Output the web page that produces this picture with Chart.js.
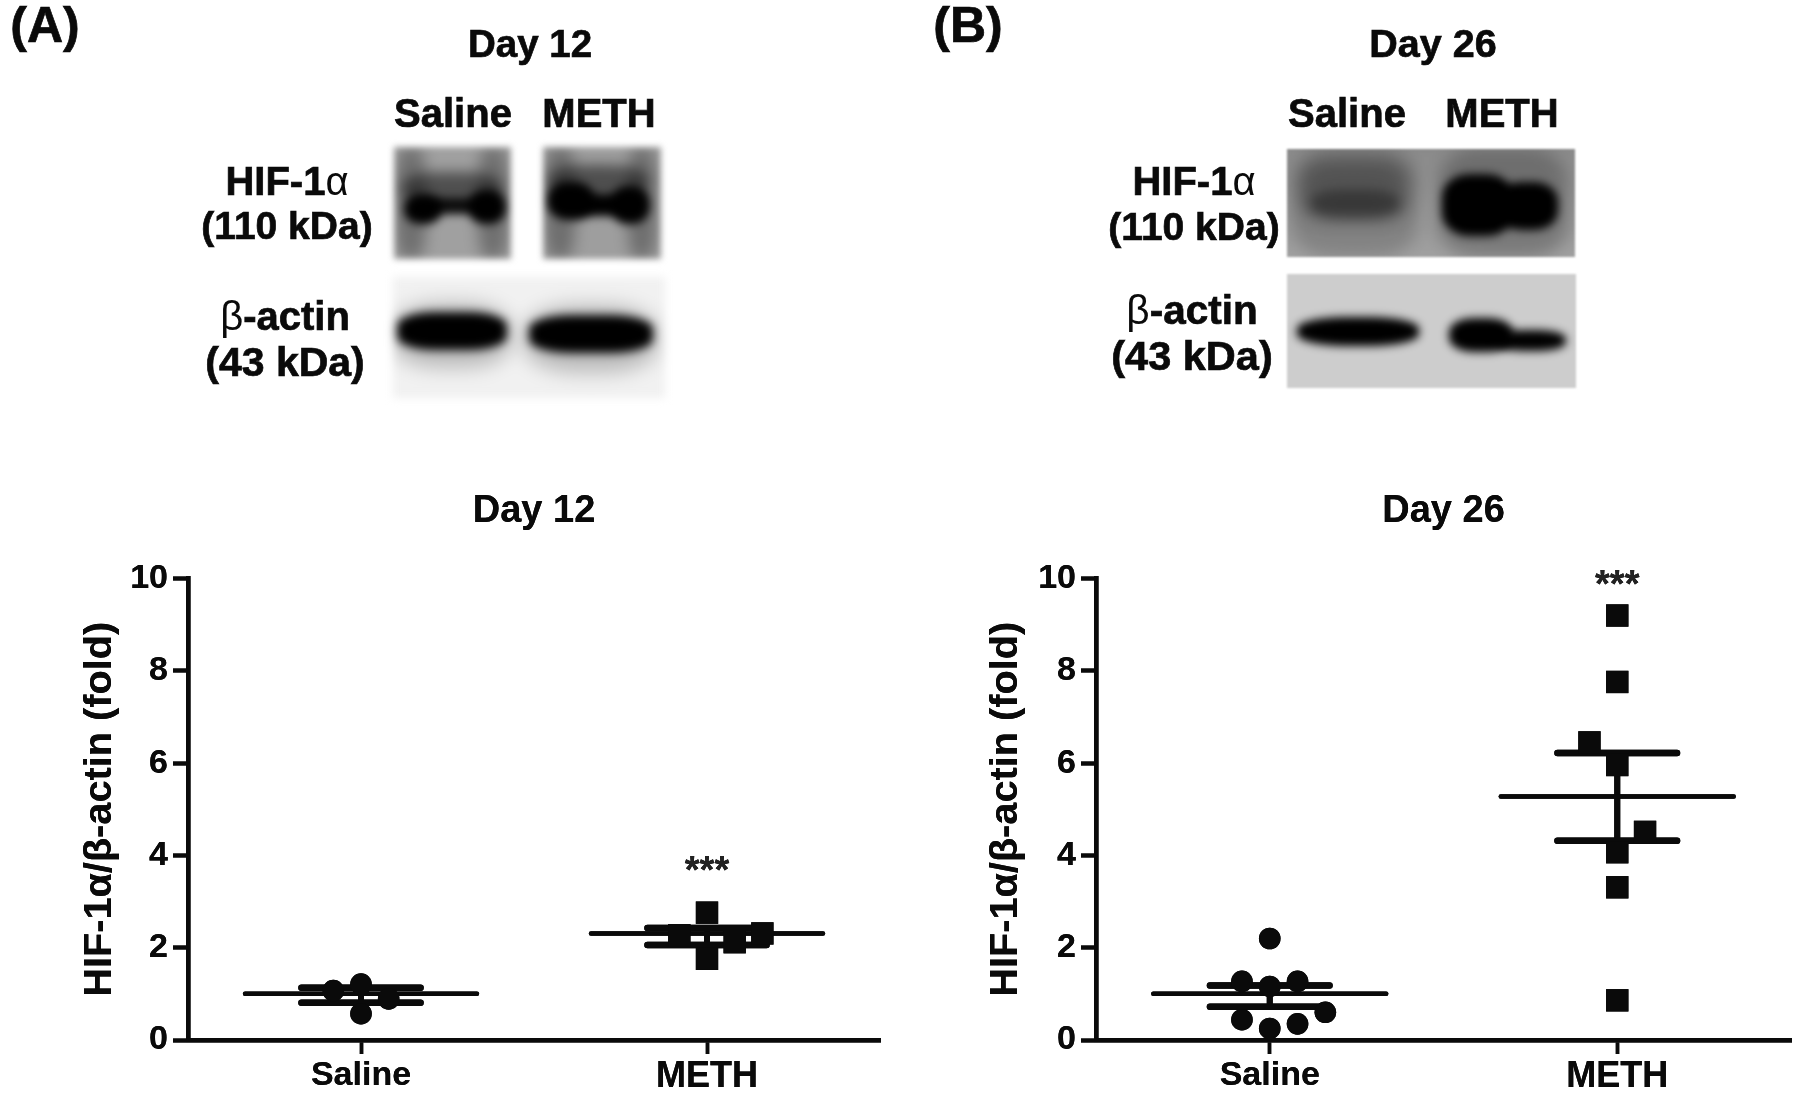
<!DOCTYPE html>
<html>
<head>
<meta charset="utf-8">
<script src="https://cdn.jsdelivr.net/npm/chart.js@4"></script>
<style>
    html, body { margin: 0; padding: 0; background: #fff; }
    #page { position: relative; width: 1800px; height: 1109px; overflow: hidden; filter: blur(0.7px); }
    canvas.plot { position: absolute; top: 481px; filter: drop-shadow(0 0 0.6px #000); }
    .txt { position: absolute; transform: translate(-50%, -50%); white-space: nowrap; color: #0a0a0a;
        font: bold 39px "Liberation Sans", Arial, sans-serif; -webkit-text-stroke: 0.7px #0a0a0a; }
    .txt i { font-style: normal; font-weight: normal; -webkit-text-stroke: 0; }
    .blot { position: absolute; overflow: hidden; }
    .blot div { position: absolute; background: #000; }
</style>
</head>
<body>
<div id="page">
    <canvas id="panelA" class="plot" width="900" height="628" style="left:0"></canvas>
    <canvas id="panelB" class="plot" width="900" height="628" style="left:900px"></canvas>
</div>
<script>
const groups = ['Saline', 'METH'];
const yTicks = [0, 2, 4, 6, 8, 10];
const yLabel = 'HIF-1α/β-actin (fold)';

// Day 12
const day12SalineX = [1, 1, 0.92, 1.08];
const day12SalineY = [1.21, 0.57, 1.07, 0.89];
const day12MethX = [2, 2, 1.92, 2.08, 2.16];
const day12MethY = [2.76, 1.76, 2.27, 2.12, 2.31];
const day12Means = [1.0, 2.31];
const day12Upper = [1.13, 2.43];
const day12Lower = [0.81, 2.06];
const day12Stars = 3.78;

// Day 26
const day26SalineX = [1, 0.92, 1.08, 1, 1.16, 0.92, 1.08, 1];
const day26SalineY = [2.2, 1.27, 1.27, 1.16, 0.6, 0.44, 0.35, 0.25];
const day26MethX = [2, 2, 1.92, 2, 2.08, 2, 2, 2];
const day26MethY = [9.2, 7.76, 6.45, 5.96, 4.51, 4.07, 3.31, 0.86];
const day26Means = [1.0, 5.28];
const day26Upper = [1.18, 6.22];
const day26Lower = [0.72, 4.32];
const day26Stars = 9.97;

const ink = '#0a0a0a';
const fontFamily = '"Liberation Sans", Arial, sans-serif';

function zip(xs, ys) {
    return xs.map((x, i) => ({ x: x, y: ys[i] }));
}

function segment(x, half, y, width) {
    return {
        type: 'scatter', showLine: true, data: [{ x: x - half, y: y }, { x: x + half, y: y }],
        borderColor: ink, borderWidth: width, pointRadius: 0, clip: false, borderCapStyle: 'round'
    };
}

function summaryLines(means, upper, lower) {
    const sets = [];
    means.forEach((m, i) => {
        const x = i + 1;
        sets.push(segment(x, 0.335, m, 4.5));
        sets.push(segment(x, 0.172, upper[i], 6.5));
        sets.push(segment(x, 0.172, lower[i], 6.5));
        sets.push({
            type: 'scatter', showLine: true, data: [{ x: x, y: lower[i] }, { x: x, y: upper[i] }],
            borderColor: ink, borderWidth: 6, pointRadius: 0, clip: false
        });
    });
    return sets;
}

// asterisks above the METH group
const starsPlugin = {
    id: 'stars',
    afterDatasetsDraw(chart, args, opts) {
        const ctx = chart.ctx;
        ctx.save();
        ctx.font = 'bold 38px ' + fontFamily;
        ctx.fillStyle = '#222';
        ctx.textAlign = 'center';
        ctx.textBaseline = 'middle';
        ctx.fillText('***', chart.scales.x.getPixelForValue(2), chart.scales.y.getPixelForValue(opts.value) + 7);
        ctx.restore();
    }
};

function makePanel(id, cfg) {
    new Chart(document.getElementById(id), {
        type: 'scatter',
        data: {
            datasets: [
                { data: zip(cfg.salX, cfg.salY), pointStyle: 'circle', pointRadius: 10.8, pointBackgroundColor: ink, pointBorderWidth: 0, clip: false },
                { data: zip(cfg.methX, cfg.methY), pointStyle: 'rect', pointRadius: 15.8, pointBackgroundColor: ink, pointBorderWidth: 0, clip: false }
            ].concat(summaryLines(cfg.means, cfg.upper, cfg.lower))
        },
        options: {
            responsive: false,
            animation: false,
            layout: { autoPadding: false, padding: { right: cfg.rightPad } },
            plugins: {
                legend: { display: false },
                tooltip: { enabled: false },
                stars: { value: cfg.stars },
                title: {
                    display: true, text: cfg.title, fullSize: false, color: ink,
                    font: { family: fontFamily, size: 38, weight: 'bold' },
                    padding: { top: 8, bottom: 44 }
                }
            },
            scales: {
                x: {
                    type: 'linear', min: 0.5, max: 2.5,
                    afterBuildTicks: s => { s.ticks = groups.map((g, i) => ({ value: i + 1 })); },
                    afterFit: s => { s.height = 69; s.paddingRight = 0; s.paddingLeft = 0; },
                    grid: { drawOnChartArea: false, tickLength: 14, tickWidth: 3.5, tickColor: ink },
                    border: { color: ink, width: 4.5 },
                    ticks: {
                        autoSkip: false, maxRotation: 0, padding: 1, color: ink,
                        font: c => ({ family: fontFamily, size: c.tick && c.tick.value === 2 ? 36 : 34, weight: 'bold' }),
                        callback: v => groups[v - 1]
                    }
                },
                y: {
                    min: 0, max: 10,
                    afterBuildTicks: s => { s.ticks = yTicks.map(v => ({ value: v })); },
                    afterFit: s => { s.width = cfg.axisLeft; },
                    grid: { drawOnChartArea: false, tickLength: 15, tickWidth: 4, tickColor: ink },
                    border: { color: ink, width: 4.5 },
                    title: {
                        display: true, text: yLabel, color: ink,
                        font: { family: fontFamily, size: 39.7, weight: 'bold' },
                        padding: { top: cfg.titlePad, bottom: 0 }
                    },
                    ticks: {
                        padding: 5, color: ink,
                        font: { family: fontFamily, size: 34, weight: 'bold' }
                    }
                }
            }
        },
        plugins: [starsPlugin]
    });
}

makePanel('panelA', {
    title: 'Day 12', salX: day12SalineX, salY: day12SalineY, methX: day12MethX, methY: day12MethY,
    means: day12Means, upper: day12Upper, lower: day12Lower, stars: day12Stars,
    axisLeft: 188, rightPad: 20, titlePad: 76
});
makePanel('panelB', {
    title: 'Day 26', salX: day26SalineX, salY: day26SalineY, methX: day26MethX, methY: day26MethY,
    means: day26Means, upper: day26Upper, lower: day26Lower, stars: day26Stars,
    axisLeft: 196, rightPad: 9, titlePad: 82
});

// text around the western blots
const page = document.getElementById('page');
function label(html, cx, cy, size) {
    const d = document.createElement('div');
    d.className = 'txt';
    d.innerHTML = html;
    d.style.left = cx + 'px';
    d.style.top = cy + 'px';
    if (size) d.style.fontSize = size + 'px';
    page.appendChild(d);
}
label('(A)', 45, 25, 50);
label('(B)', 968, 25, 50);
label('Day 12', 530, 44, 38.5);
label('Day 26', 1433, 43, 39.5);
label('Saline', 453, 113, 40);
label('METH', 599, 113, 40);
label('Saline', 1347, 113, 40);
label('METH', 1502, 113, 40);
label('HIF-1<i>α</i>', 287, 181, 40);
label('(110 kDa)', 287, 226);
label('<i>β</i>-actin', 285, 316, 40);
label('(43 kDa)', 285, 362, 41);
label('HIF-1<i>α</i>', 1194, 181, 40);
label('(110 kDa)', 1194, 227);
label('<i>β</i>-actin', 1192, 310, 40.5);
label('(43 kDa)', 1192, 356, 41.5);

// blot images: soft dark blobs on a grey panel
function blot(x, y, w, h, background, blur, blobs) {
    const p = document.createElement('div');
    p.className = 'blot';
    p.style.cssText = `left:${x}px;top:${y}px;width:${w}px;height:${h}px;background:${background};filter:blur(${blur}px)`;
    blobs.forEach(b => {
        const d = document.createElement('div');
        d.style.cssText = `left:${b[0] - x}px;top:${b[1] - y}px;width:${b[2]}px;height:${b[3]}px;border-radius:${b[4] || '50%'};opacity:${b[5] || 1};filter:blur(${b[6] || 4}px)`;
        p.appendChild(d);
    });
    page.appendChild(p);
}

// Day 12 HIF-1a lanes
blot(394, 147, 117, 112, '#a0a0a0', 3, [
    [396, 147, 30, 112, '30%', 0.3, 7], [478, 147, 30, 112, '30%', 0.3, 7],
    [402, 172, 100, 34, '40%', 0.5, 6],
    [404, 194, 38, 30, '45%', 1, 3], [468, 190, 38, 34, '45%', 1, 3], [425, 198, 55, 16, '30%', 0.9, 3]
]);
blot(543, 147, 118, 112, '#9e9e9e', 3, [
    [545, 147, 30, 112, '30%', 0.3, 7], [628, 147, 28, 112, '30%', 0.3, 7],
    [548, 165, 100, 34, '40%', 0.5, 6],
    [547, 182, 48, 38, '45%', 1, 3], [610, 186, 40, 38, '45%', 1, 3], [570, 194, 55, 22, '30%', 1, 3]
]);
blot(393, 277, 272, 121, '#f1f1f1', 4, [
    [397, 312, 110, 38, '35%', 1, 2], [529, 315, 124, 38, '35%', 1, 2],
    [392, 303, 120, 65, '40%', 0.22, 9], [524, 305, 134, 68, '40%', 0.22, 9]
]);
// Day 26 HIF-1a lanes
blot(1287, 149, 288, 108, 'linear-gradient(#8a8a8a, #a0a0a0)', 1, [
    [1292, 149, 125, 108, '30%', 0.16, 8], [1300, 160, 108, 60, '30%', 0.3, 9], [1310, 190, 90, 28, '40%', 0.35, 6],
    [1438, 149, 130, 108, '30%', 0.22, 8],
    [1442, 174, 72, 62, '38%', 1, 4], [1498, 182, 60, 48, '40%', 1, 4], [1485, 194, 30, 22, '20%', 1, 3]
]);
blot(1287, 274, 289, 114, '#cdcdcd', 1, [
    [1297, 317, 122, 29, '40%', 1, 4], [1449, 318, 64, 34, '40%', 1, 4], [1495, 330, 71, 21, '40%', 1, 4]
]);
</script>
</body>
</html>
